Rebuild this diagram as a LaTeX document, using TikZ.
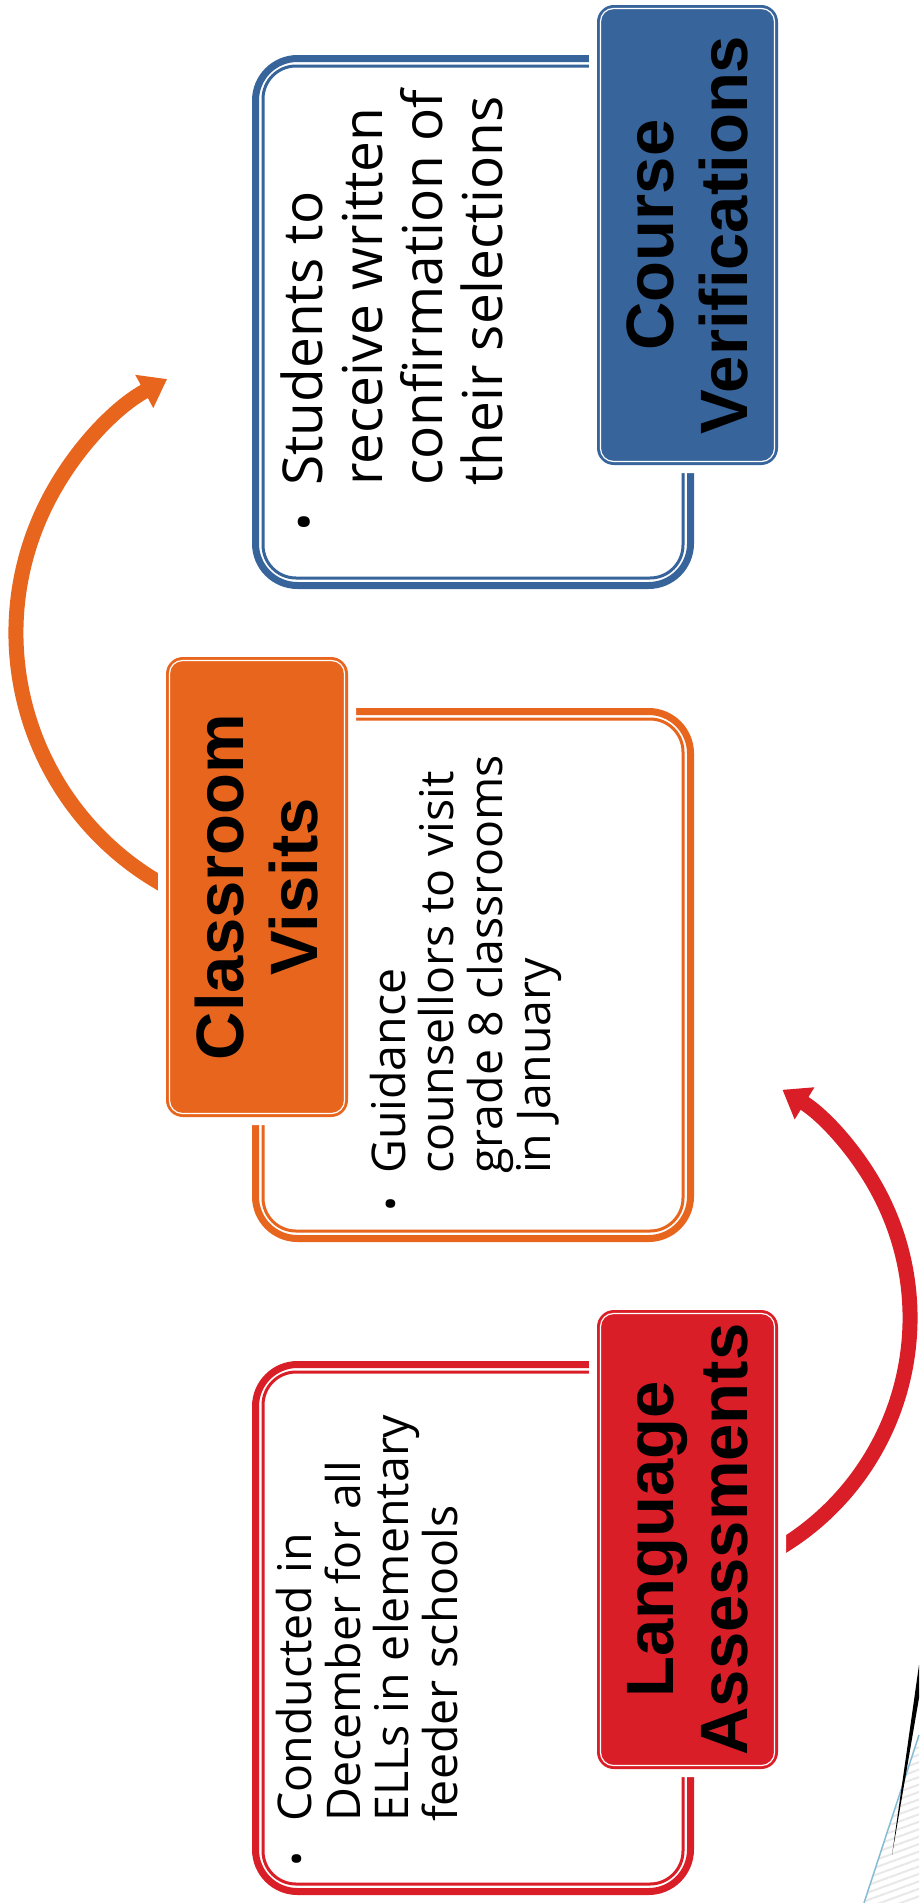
\documentclass[tikz,border=0pt]{standalone}
\usepackage{fontspec}
\setmainfont{Open Sans}
\newfontfamily\titlefont{Liberation Sans}
\usetikzlibrary{arrows.meta}
\usetikzlibrary{patterns.meta}
\definecolor{azul}{HTML}{36649B}
\definecolor{naranja}{HTML}{E8651E}
\definecolor{rojo}{HTML}{DA1E28}
\definecolor{celeste}{HTML}{86BCD3}
\tikzstyle{every path}=[line join=round]
\tikzstyle{titletext}=[rotate=90, align=center, inner sep=0pt, font=\titlefont\bfseries\fontsize{67}{74}\selectfont]
\tikzstyle{bigline}=[rotate=90, anchor=base west, inner sep=0pt, font=\fontsize{55}{60}\selectfont]
\tikzstyle{smallline}=[rotate=90, anchor=base west, inner sep=0pt, font=\fontsize{46.5}{48}\selectfont]
\tikzstyle{bigdot}=[rotate=90, anchor=base, inner sep=0pt, font=\fontsize{50}{60}\selectfont]
\tikzstyle{smalldot}=[rotate=90, anchor=base, inner sep=0pt, font=\fontsize{40}{48}\selectfont]

\begin{document}
\begin{tikzpicture}[x=1pt, y=1pt]
        \useasboundingbox (0,0) rectangle (919,-1903);
        \fill[white] (0,0) rectangle (919,-1903);
        %esquina
        \fill[pattern={Lines[angle=20,distance=7pt,line width=2pt]}, pattern color=gray!18] (864,-1903) -- (919,-1735) -- (919,-1903) -- cycle;
        \draw[celeste, line width=1.5pt] (864,-1903) -- (919,-1735);
        \fill[black] (919,-1665) -- (892,-1855) -- (919,-1698) -- cycle;
        %cajas
        \draw[azul, line width=7pt, rounded corners=42pt] (255.5,-58.5) rectangle (690.5,-585.5);
        \draw[azul, line width=3pt, rounded corners=33pt] (263,-66) rectangle (683,-578);
        \draw[naranja, line width=7pt, rounded corners=42pt] (255.5,-711.5) rectangle (690.5,-1238.5);
        \draw[naranja, line width=3pt, rounded corners=33pt] (263,-719) rectangle (683,-1231);
        \draw[rojo, line width=7pt, rounded corners=42pt] (255.5,-1364.5) rectangle (690.5,-1891.5);
        \draw[rojo, line width=3pt, rounded corners=33pt] (263,-1372) rectangle (683,-1884);
        %flechas
        \coordinate (oc) at (305,-633);
        \draw[naranja, line width=15pt, -{Triangle[width=36pt,length=26pt]}] ([shift={(244:289)}]oc) arc[start angle=244, end angle=118.5, radius=289];
        \coordinate (rc) at (642,-1318);
        \draw[rojo, line width=15pt, -{Triangle[width=36pt,length=26pt]}] ([shift={(-62:268)}]rc) arc[start angle=-62, end angle=58.4, radius=268];
        %titulos
        \filldraw[white, line width=16pt, rounded corners=16pt] (597,-5) rectangle (778,-465);
        \filldraw[fill=azul, draw=azul, line width=2pt, rounded corners=16pt] (598,-6) rectangle (777,-464);
        \draw[white, line width=1.2pt, rounded corners=13pt] (600.5,-8.5) rectangle (774.5,-461.5);
        \node[titletext] (course) at (687.5,-235) {Course\\Verifications};
        \filldraw[white, line width=16pt, rounded corners=16pt] (166,-657) rectangle (348,-1117);
        \filldraw[fill=naranja, draw=naranja, line width=2pt, rounded corners=16pt] (167,-658) rectangle (347,-1116);
        \draw[white, line width=1.2pt, rounded corners=13pt] (169.5,-660.5) rectangle (344.5,-1113.5);
        \node[titletext] (classroom) at (257,-887) {Classroom\\Visits};
        \filldraw[white, line width=16pt, rounded corners=16pt] (597,-1310) rectangle (778,-1769);
        \filldraw[fill=rojo, draw=rojo, line width=2pt, rounded corners=16pt] (598,-1311) rectangle (777,-1768);
        \draw[white, line width=1.2pt, rounded corners=13pt] (600.5,-1313.5) rectangle (774.5,-1765.5);
        \node[titletext] (language) at (687.5,-1539.5) {Language\\Assessments};
        %textos
        \node[bigdot] (bA) at (322,-522) {\textbullet};
        \node[bigline] (sA1) at (322,-486) {Students to};
        \node[bigline] (sA2) at (382,-486) {receive written};
        \node[bigline] (sA3) at (442,-486) {confirmation of};
        \node[bigline] (sA4) at (502,-486) {their selections};
        \node[smalldot] (bB) at (405,-1204) {\textbullet};
        \node[smallline] (sB1) at (405,-1174) {Guidance};
        \node[smallline] (sB2) at (453.5,-1174) {counsellors to visit};
        \node[smallline] (sB3) at (502,-1174) {grade 8 classrooms};
        \node[smallline] (sB4) at (550.5,-1174) {in January};
        \node[smalldot] (bC) at (311,-1859) {\textbullet};
        \node[smallline] (sC1) at (311,-1822) {Conducted in};
        \node[smallline] (sC2) at (360,-1822) {December for all};
        \node[smallline] (sC3) at (408,-1822) {ELLs in elementary};
        \node[smallline] (sC4) at (457,-1822) {feeder schools};
\end{tikzpicture}
\end{document}
